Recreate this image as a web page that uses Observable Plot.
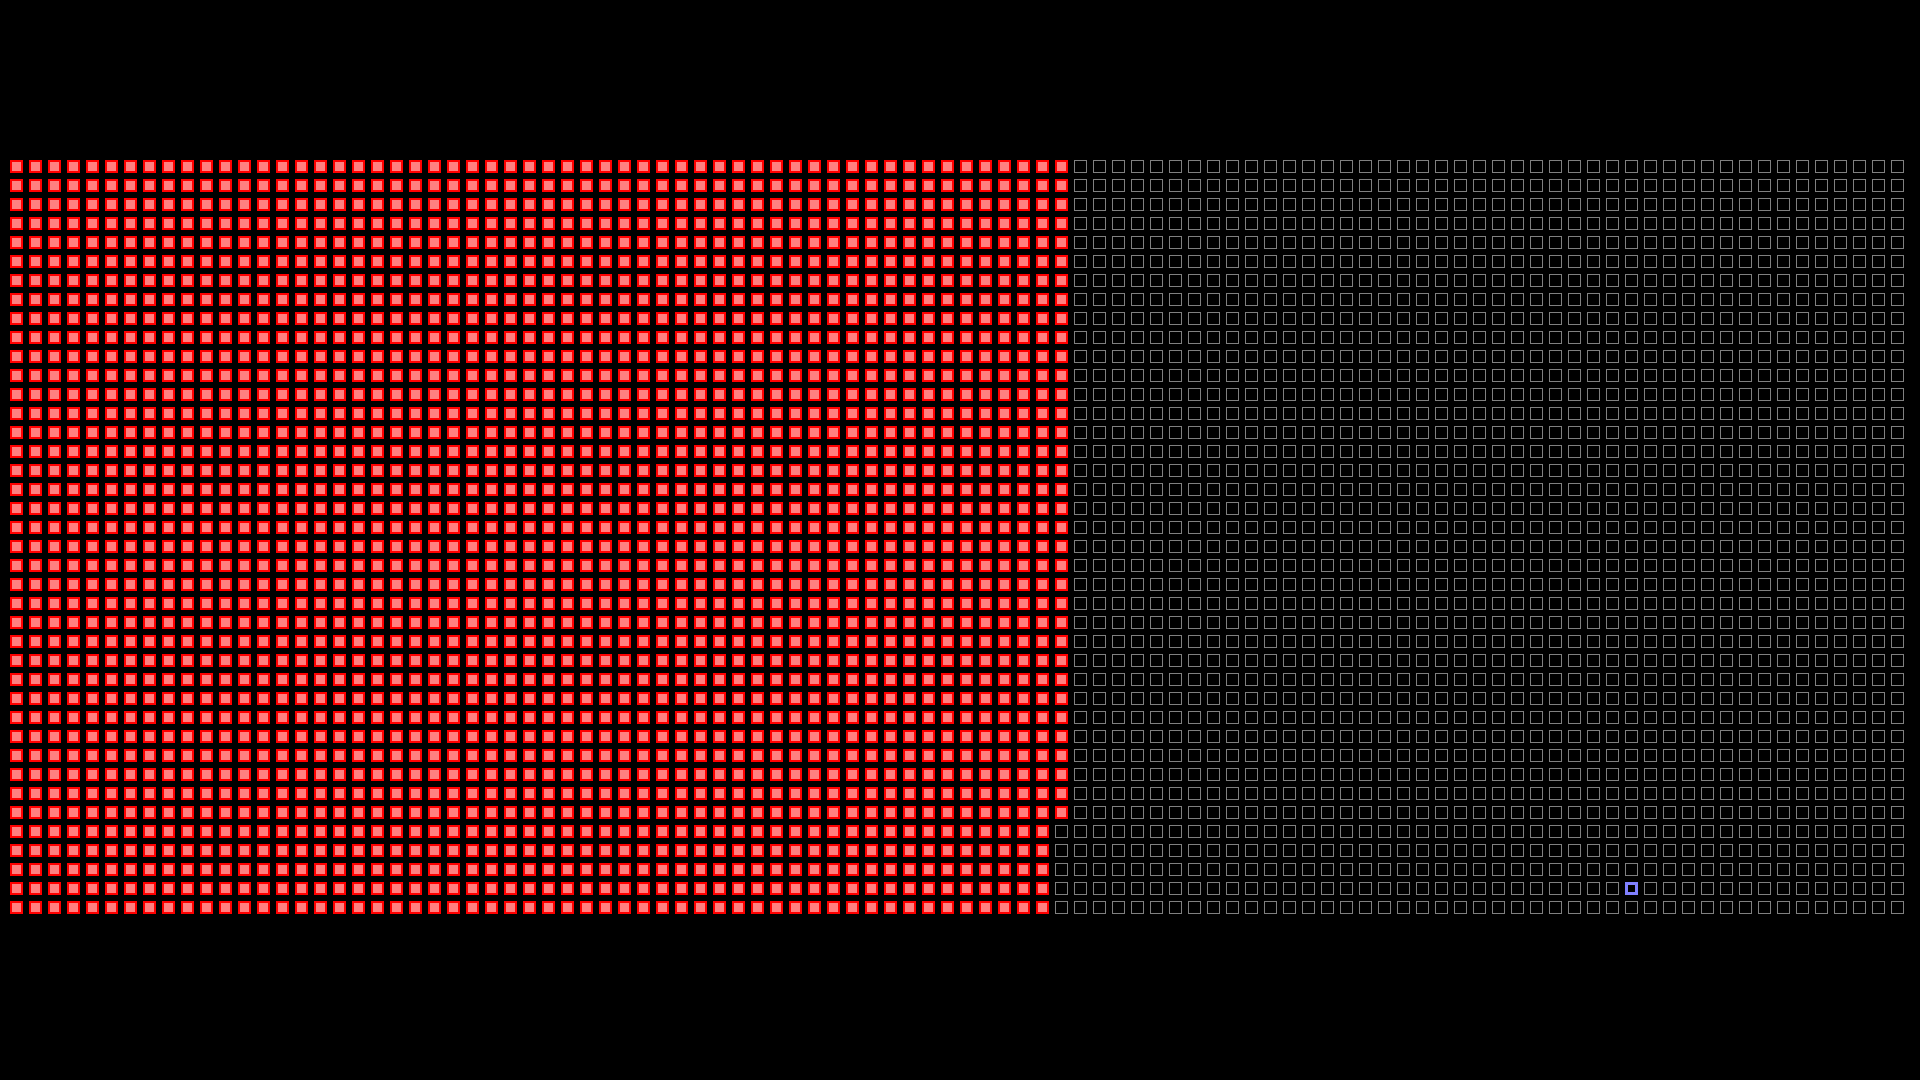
<!DOCTYPE html>
<html>
<head>
<meta charset="utf-8">
<script src="https://cdn.jsdelivr.net/npm/d3@7"></script>
<script src="https://cdn.jsdelivr.net/npm/@observablehq/plot@0.6"></script>
<style>
  html, body { margin: 0; padding: 0; background: #000; }
  #chart svg { display: block; }
</style>
</head>
<body>
<div id="chart"></div>
<script>
// Grid layout of the waffle (column-major fill, top to bottom)
const gridColumns = 100;
const gridRows = 40;
// Categories and their counts
const categories = ["filled", "empty"];
const categoryCounts = [2235, 1765];
// Single highlighted cell (column, row)
const highlightColumn = 85;
const highlightRow = 38;

const cells = [];
let idx = 0;
categories.forEach((cat, ci) => {
  for (let k = 0; k < categoryCounts[ci]; k++, idx++) {
    const col = Math.floor(idx / gridRows);
    const row = idx % gridRows;
    const isHighlight = col === highlightColumn && row === highlightRow;
    cells.push({col, row, cat: isHighlight ? "highlight" : cat});
  }
});

const colDomain = d3.range(gridColumns);
const rowDomain = d3.range(gridRows);

const chart = Plot.plot({
  width: 1920,
  height: 1080,
  marginLeft: 7,
  marginRight: 13,
  marginTop: 157,
  marginBottom: 163,
  style: {background: "#000"},
  x: {type: "band", domain: colDomain, padding: 0, round: false, axis: null},
  y: {type: "band", domain: rowDomain, padding: 0, round: false, axis: null},
  marks: [
    Plot.cell(cells.filter(d => d.cat === "empty"), {
      x: "col", y: "row", inset: 3.5, fill: "none", stroke: "#808080", strokeWidth: 1
    }),
    Plot.cell(cells.filter(d => d.cat === "filled"), {
      x: "col", y: "row", inset: 4, fill: "#ff8080", stroke: "#ff0000", strokeWidth: 2
    }),
    Plot.cell(cells.filter(d => d.cat === "highlight"), {
      x: "col", y: "row", inset: 4.5, fill: "#000", stroke: "#8080ff", strokeWidth: 3
    })
  ]
});
document.getElementById("chart").appendChild(chart);
</script>
</body>
</html>
